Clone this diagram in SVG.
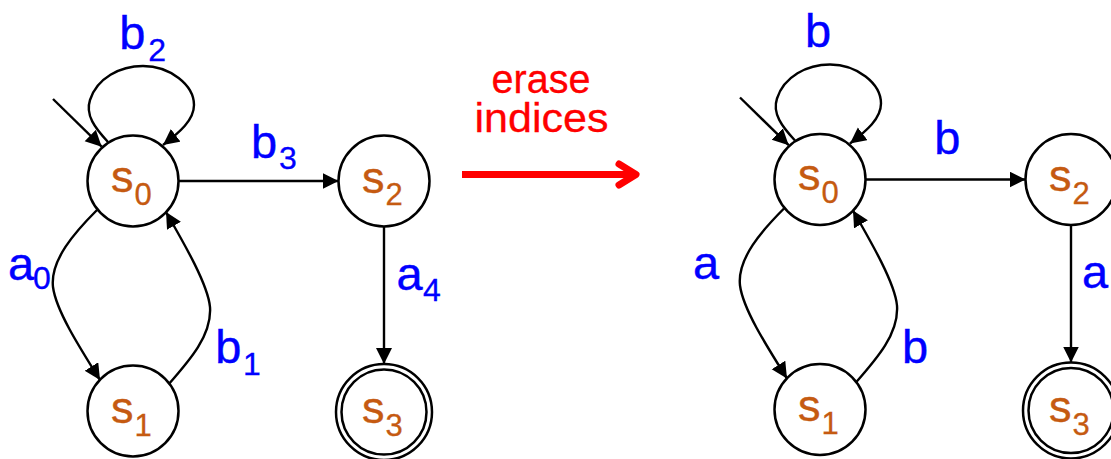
<svg xmlns="http://www.w3.org/2000/svg" width="1111" height="459" viewBox="0 0 1111 459">
<defs>
<marker id="ah" markerWidth="17" markerHeight="17" refX="16" refY="8" orient="auto" markerUnits="userSpaceOnUse">
<path d="M0,0 L16,8 L0,16 Z" fill="#000"/>
</marker>
<style>
text{font-family:"Liberation Sans",Arial,sans-serif}
.st{fill:#fff;stroke:#000;stroke-width:2.5}
.sn{fill:#C55A11;stroke:#C55A11;stroke-width:0.4;font-size:45px}
.ss{fill:#C55A11;stroke:#C55A11;stroke-width:0.3;font-size:31px}
.lb{fill:#0000FF;stroke:#0000FF;stroke-width:0.4;font-size:47px}
.ls{fill:#0000FF;stroke:#0000FF;stroke-width:0.3;font-size:32px}
.e{fill:none;stroke:#000;stroke-width:2.4;marker-end:url(#ah)}
.r{fill:#FF0000;stroke:#FF0000;stroke-width:0.3;font-size:41px;text-anchor:middle}
</style>
</defs>
<rect width="1111" height="459" fill="#fff"/>

<g id="connectors">
<path class="e" d="M53,99 L101.7,146.7"/>
<path class="e" d="M108,142 C95,128 85,115 90,100 C97,78 120,66 143,66 C170,66 194,85 194,105 C194,120 180,132 163,145"/>
<path class="e" d="M179,181 L338.5,181"/>
<path class="e" d="M97,210 C75,232 50,260 53,287 C56,310 78,345 100,380"/>
<path class="e" d="M168,385 C190,360 212,335 210,307 C208,285 185,245 166,212"/>
<path class="e" d="M384,226.5 L384,364"/>

<path class="e" d="M740,97.5 L788.7,145.2"/>
<path class="e" d="M795,140.5 C782,126.5 772,113.5 777,98.5 C784,76.5 807,64.5 830,64.5 C857,64.5 881,83.5 881,103.5 C881,118.5 867,130.5 850,143.5"/>
<path class="e" d="M866,179.5 L1025.5,179.5"/>
<path class="e" d="M784,208.5 C762,230.5 737,258.5 740,285.5 C743,308.5 765,343.5 787,378.5"/>
<path class="e" d="M855,383.5 C877,358.5 899,333.5 897,305.5 C895,283.5 872,243.5 853,210.5"/>
<path class="e" d="M1071,225 L1071,362.5"/>

<path d="M462,174.5 L634,174.5" stroke="#FF0000" stroke-width="7" fill="none"/>
<path d="M619,164 L636,174.5 L619,185" stroke="#FF0000" stroke-width="7" fill="none" stroke-linecap="round" stroke-linejoin="round"/>
</g>

<g id="labels">
<text class="lb" x="119.3" y="48.5">b</text><text class="ls" x="148.3" y="61">2</text>
<text class="lb" x="251" y="158">b</text><text class="ls" x="279" y="168.5">3</text>
<text class="lb" x="8" y="279.5">a</text><text class="ls" x="33" y="289">0</text>
<text class="lb" x="215.3" y="363">b</text><text class="ls" x="243" y="375">1</text>
<text class="lb" x="396.5" y="290">a</text><text class="ls" x="423" y="301">4</text>

<text class="lb" x="805" y="46.5">b</text>
<text class="lb" x="934.3" y="153.5">b</text>
<text class="lb" x="693" y="279">a</text>
<text class="lb" x="902" y="362.5">b</text>
<text class="lb" x="1082" y="288">a</text>

<text class="r" x="541" y="92.5" textLength="99" lengthAdjust="spacingAndGlyphs">erase</text>
<text class="r" x="541.5" y="131.5" textLength="134" lengthAdjust="spacingAndGlyphs">indices</text>
</g>

<g id="L_s0"><circle class="st" cx="133" cy="181" r="45.5"/><text class="sn" x="111" y="191.5">s</text><text class="ss" x="134.5" y="204.5">0</text></g>
<g id="L_s1"><circle class="st" cx="133" cy="411" r="45.5"/><text class="sn" x="111" y="422.5">s</text><text class="ss" x="134.5" y="435.5">1</text></g>
<g id="L_s2"><circle class="st" cx="384" cy="181" r="45.5"/><text class="sn" x="362" y="192.5">s</text><text class="ss" x="385.5" y="205">2</text></g>
<g id="L_s3"><circle class="st" cx="384" cy="412" r="48"/><circle class="st" cx="384" cy="412" r="42.5"/><text class="sn" x="362" y="423">s</text><text class="ss" x="385.5" y="436">3</text></g>

<g id="R_s0"><circle class="st" cx="820" cy="179.5" r="45.5"/><text class="sn" x="798" y="190">s</text><text class="ss" x="821.5" y="203">0</text></g>
<g id="R_s1"><circle class="st" cx="820" cy="409.5" r="45.5"/><text class="sn" x="798" y="421">s</text><text class="ss" x="821.5" y="434">1</text></g>
<g id="R_s2"><circle class="st" cx="1071" cy="179.5" r="45.5"/><text class="sn" x="1049" y="191">s</text><text class="ss" x="1072.5" y="203.5">2</text></g>
<g id="R_s3"><circle class="st" cx="1071" cy="410.5" r="48"/><circle class="st" cx="1071" cy="410.5" r="42.5"/><text class="sn" x="1049" y="421.5">s</text><text class="ss" x="1072.5" y="434.5">3</text></g>
</svg>
